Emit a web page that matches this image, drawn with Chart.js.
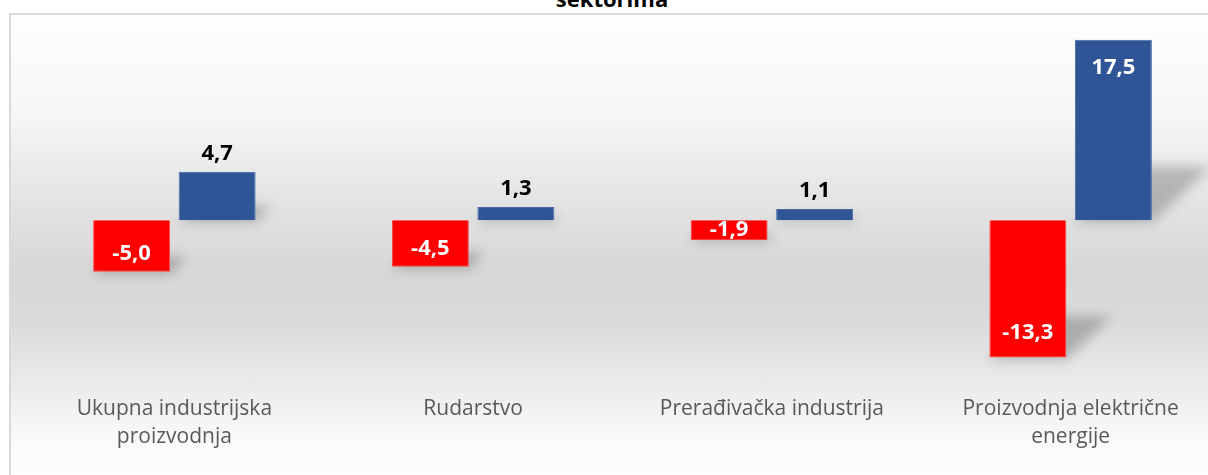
<!DOCTYPE html>
<html>
<head>
<meta charset="utf-8">
<script src="https://cdn.jsdelivr.net/npm/chart.js@4.4.1/dist/chart.umd.min.js"></script>
<style>
  html, body { margin: 0; padding: 0; background: #fff; }
  body { width: 1208px; height: 475px; overflow: hidden; position: relative; font-family: "Open Sans", sans-serif; }
  .frame {
    position: absolute; left: 9px; top: 13px; width: 1300px; height: 500px;
    border: 2px solid #d9d9d9; box-sizing: border-box;
    background: linear-gradient(to bottom, #fefefe 0px, #f6f6f6 100px, #e4e4e4 185px, #d7d7d7 255px, #dadada 305px, #ececec 375px, #fafafa 425px, #fdfdfd 460px);
  }
  .title { position: absolute; left: 8px; width: 1208px; top: -13px; text-align: center; font: bold 22px/22px "Open Sans", sans-serif; color: #000; }
  .wrap { position: absolute; left: 0; top: 0; width: 1240px; height: 475px; }
</style>
</head>
<body>
<div class="frame"></div>
<div class="title">sektorima</div>
<div class="wrap"><canvas id="chart" width="1240" height="475"></canvas></div>
<script>
// podaci
const categories = [
  ["Ukupna industrijska", "proizvodnja"],
  ["Rudarstvo"],
  ["Prerađivačka industrija"],
  ["Proizvodnja električne", "energije"]
];
const redValues = [-5.0, -4.5, -1.9, -13.3];
const blueValues = [4.7, 1.3, 1.1, 17.5];
const yMin = -15;
const yMax = 20;

// perspektivna sjena iza stupaca
const barShadow = {
  id: "barShadow",
  beforeDatasetsDraw(chart) {
    const ctx = chart.ctx;
    ctx.save();
    ctx.filter = "blur(6px)";
    ctx.fillStyle = "rgba(0,0,0,0.22)";
    chart.data.datasets.forEach((ds, i) => {
      chart.getDatasetMeta(i).data.forEach(bar => {
        const { x, y, base, width } = bar.getProps(["x", "y", "base", "width"], true);
        const bottom = Math.max(y, base);
        const h = Math.abs(base - y) * 0.3;
        const shift = h * 1.1;
        const l = x - width / 2, r = x + width / 2;
        ctx.beginPath();
        ctx.moveTo(l, bottom + 2);
        ctx.lineTo(r, bottom + 2);
        ctx.lineTo(r + shift, bottom - h);
        ctx.lineTo(l + shift, bottom - h);
        ctx.closePath();
        ctx.fill();
      });
    });
    ctx.restore();
  }
};

// oznake vrijednosti
const valueLabels = {
  id: "valueLabels",
  afterDatasetsDraw(chart) {
    const ctx = chart.ctx;
    ctx.save();
    ctx.font = 'bold 22px "Open Sans"';
    ctx.textAlign = "center";
    ctx.textBaseline = "middle";
    chart.data.datasets.forEach((ds, i) => {
      chart.getDatasetMeta(i).data.forEach((bar, j) => {
        const v = ds.data[j];
        const { x, y, base } = bar.getProps(["x", "y", "base"], true);
        const h = Math.abs(base - y);
        const text = v.toFixed(1).replace(".", ",");
        let ty;
        if (v < 0 || v > 10) {
          const off = Math.min(h / 2, 14 + h * 0.08);
          ty = v < 0 ? y - off : y + off;
          ctx.fillStyle = "#fff";
        } else {
          ty = y - 18;
          ctx.fillStyle = "#000";
        }
        ctx.fillText(text, x, ty);
      });
    });
    ctx.restore();
  }
};

new Chart(document.getElementById("chart"), {
  type: "bar",
  data: {
    labels: categories,
    datasets: [
      {
        label: "Serija 1",
        data: redValues,
        backgroundColor: "#ff0000",
        borderColor: "#ff4040",
        borderWidth: 1,
        barPercentage: 0.9,
        categoryPercentage: 0.5725
      },
      {
        label: "Serija 2",
        data: blueValues,
        backgroundColor: "#2f5597",
        borderColor: "#4a6aa5",
        borderWidth: 1,
        barPercentage: 0.9,
        categoryPercentage: 0.5725
      }
    ]
  },
  options: {
    responsive: false,
    animation: false,
    layout: { padding: { left: 25, right: 20, top: 14, bottom: 4 } },
    plugins: {
      legend: { display: false },
      tooltip: { enabled: false }
    },
    scales: {
      x: {
        grid: { display: false, drawTicks: false },
        border: { display: false },
        ticks: {
          color: "#595959",
          font: { family: "Open Sans", size: 21, lineHeight: "28px" },
          padding: 20,
          autoSkip: false,
          maxRotation: 0
        }
      },
      y: { display: false, min: yMin, max: yMax }
    }
  },
  plugins: [barShadow, valueLabels]
});
</script>
</body>
</html>
